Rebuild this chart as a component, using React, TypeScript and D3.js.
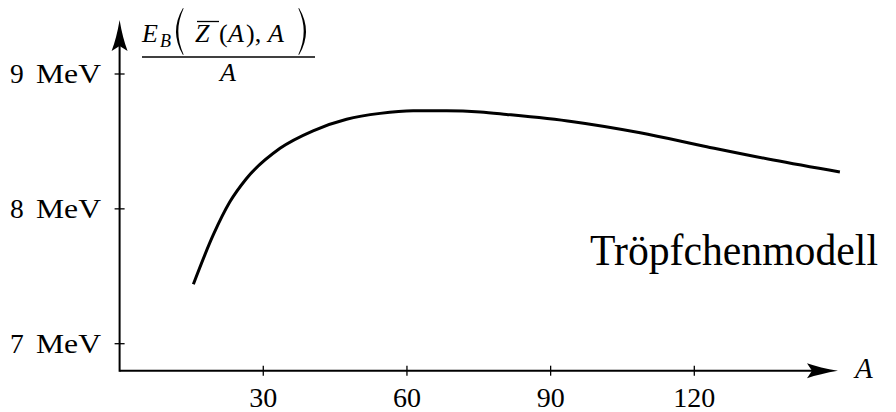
import React from "react";
import * as d3 from "d3";

// Binding energy per nucleon (liquid-drop model)
const massNumbers = [15.4, 19.6, 23.0, 26.5, 33.5, 40.4, 47.4, 54.4, 61.3, 68.3, 75.3, 80.8, 94.7, 108.7, 122.6, 136.5, 150.4];
const bindingPerNucleon = [7.441, 7.81, 8.05, 8.225, 8.449, 8.579, 8.664, 8.708, 8.727, 8.727, 8.718, 8.70, 8.646, 8.564, 8.461, 8.362, 8.273];

const xTicks = [30, 60, 90, 120];
const yTicks = [7, 8, 9];
const yTickNumbers = ["7", "8", "9"];
const yUnit = "MeV";

const W = 896;
const H = 412;
const FONT =
  "'Liberation Serif', 'Times New Roman', Times, 'DejaVu Serif', 'Noto Serif', Tinos, Georgia, serif";

export default function App() {
  const x = d3.scaleLinear().domain([0, 120]).range([119.6, 694.3]);
  const y = d3.scaleLinear().domain([7, 9]).range([343.7, 74]);

  const originX = x(0);
  const axisY = 370.7;
  const yArrowTip = 20;
  const xArrowTip = 838;

  const points: [number, number][] = massNumbers.map((a, i) => [a, bindingPerNucleon[i]]);
  const line = d3
    .line<[number, number]>()
    .x((d) => x(d[0]))
    .y((d) => y(d[1]))
    .curve(d3.curveMonotoneX);

  // stealth-style arrowheads
  const yArrow = `M${originX},${yArrowTip} Q${originX + 3},${yArrowTip + 18} ${originX + 8},${yArrowTip + 31} L${originX},${yArrowTip + 26} L${originX - 8},${yArrowTip + 31} Q${originX - 3},${yArrowTip + 18} ${originX},${yArrowTip} Z`;
  const xArrow = `M${xArrowTip},${axisY} Q${xArrowTip - 18},${axisY + 3} ${xArrowTip - 31},${axisY + 7.5} L${xArrowTip - 26},${axisY} L${xArrowTip - 31},${axisY - 7.5} Q${xArrowTip - 18},${axisY - 3} ${xArrowTip},${axisY} Z`;

  // large delimiters around the numerator
  const leftParen = (px: number, top: number, bot: number) => {
    const mid = (top + bot) / 2;
    return `M${px + 8},${top} Q${px - 6},${mid} ${px + 8},${bot} L${px + 8.6},${bot - 0.6} Q${px - 2},${mid} ${px + 8.6},${top + 0.6} Z`;
  };
  const rightParen = (px: number, top: number, bot: number) => {
    const mid = (top + bot) / 2;
    return `M${px},${top} Q${px + 14},${mid} ${px},${bot} L${px - 0.6},${bot - 0.6} Q${px + 10},${mid} ${px - 0.6},${top + 0.6} Z`;
  };

  return (
    <svg
      width={W}
      height={H}
      viewBox={`0 0 ${W} ${H}`}
      style={{ position: "absolute", left: 0, top: 0, background: "#fff" }}
    >
      <g style={{ fontFamily: FONT }} fill="#000">
        {/* axes */}
        <line x1={originX} y1={axisY} x2={xArrowTip - 26} y2={axisY} stroke="#000" strokeWidth={2} />
        <line x1={originX} y1={axisY + 1} x2={originX} y2={yArrowTip + 26} stroke="#000" strokeWidth={2} />
        <path d={yArrow} fill="#000" />
        <path d={xArrow} fill="#000" />

        {/* x ticks */}
        {xTicks.map((t) => (
          <g key={`xt${t}`}>
            <line x1={x(t)} y1={axisY - 5} x2={x(t)} y2={axisY + 5} stroke="#000" strokeWidth={1.3} />
            <text x={x(t)} y={406.5} fontSize={28} textAnchor="middle">
              {t}
            </text>
          </g>
        ))}

        {/* y ticks */}
        {yTicks.map((t, i) => (
          <g key={`yt${t}`}>
            <line x1={originX - 5} y1={y(t)} x2={originX + 5} y2={y(t)} stroke="#000" strokeWidth={1.3} />
            <text x={10} y={y(t) + 9} fontSize={27.5}>
              {yTickNumbers[i]}
            </text>
            <text x={101} y={y(t) + 9} fontSize={27.5} textAnchor="end" textLength={65} lengthAdjust="spacingAndGlyphs">
              {yUnit}
            </text>
          </g>
        ))}

        {/* x axis label */}
        <text x={855} y={378} fontSize={29} fontStyle="italic">
          A
        </text>

        {/* y axis label: E_B( Z̄(A), A ) / A */}
        <text x={142} y={42} fontSize={26} fontStyle="italic">
          E
        </text>
        <text x={160} y={47} fontSize={18} fontStyle="italic">
          B
        </text>
        <path d={leftParen(175, 8, 55)} />
        <text x={195} y={42} fontSize={26} fontStyle="italic">
          Z
        </text>
        <line x1={197} y1={21.5} x2={219} y2={21.5} stroke="#000" strokeWidth={1.3} />
        <text x={219} y={42} fontSize={26}>
          (
        </text>
        <text x={228} y={42} fontSize={26} fontStyle="italic">
          A
        </text>
        <text x={246} y={42} fontSize={26}>
          ),
        </text>
        <text x={268} y={42} fontSize={26} fontStyle="italic">
          A
        </text>
        <path d={rightParen(299, 8, 55)} />
        <line x1={142} y1={57} x2={315} y2={57} stroke="#000" strokeWidth={1.6} />
        <text x={228} y={81} fontSize={26} fontStyle="italic" textAnchor="middle">
          A
        </text>

        {/* curve */}
        <path d={line(points) ?? ""} fill="none" stroke="#000" strokeWidth={3} strokeLinecap="butt" />

        {/* model label */}
        <text x={590} y={265} fontSize={44} textLength={288} lengthAdjust="spacingAndGlyphs">
          Tröpfchenmodell
        </text>
      </g>
    </svg>
  );
}
